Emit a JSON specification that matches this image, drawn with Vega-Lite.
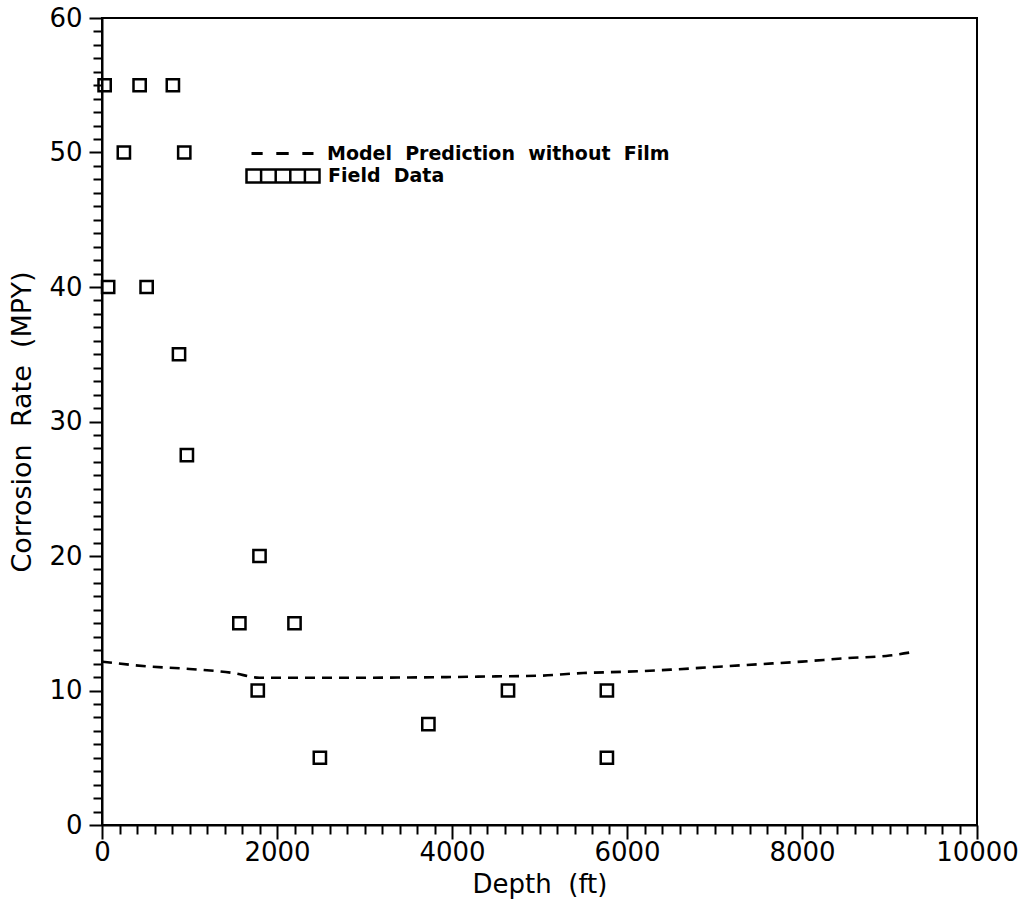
{
  "$schema": "https://vega.github.io/schema/vega-lite/v6.json",
  "width": 875,
  "height": 807,
  "autosize": {"type": "none"},
  "padding": {"left": 102, "top": 18, "right": 50, "bottom": 81},
  "background": "white",
  "config": {
    "view": {"stroke": "black", "strokeWidth": 2},
    "font": "DejaVu Sans",
    "axis": {
      "grid": false,
      "domainColor": "black",
      "domainWidth": 2,
      "tickColor": "black",
      "tickWidth": 2,
      "labelColor": "black",
      "titleColor": "black",
      "labelFont": "DejaVu Sans",
      "titleFont": "DejaVu Sans",
      "labelFontSize": 26,
      "titleFontSize": 26,
      "titleFontWeight": "normal"
    },
    "legend": {
      "labelFont": "DejaVu Sans",
      "labelFontSize": 19,
      "labelFontWeight": "bold",
      "labelColor": "black",
      "labelLimit": 0,
      "padding": 0,
      "offset": 0
    }
  },
  "datasets": {
    "field": [
      {"depth": 30, "rate": 55, "obs": "Field\u00a0 Data"},
      {"depth": 430, "rate": 55, "obs": "Field\u00a0 Data"},
      {"depth": 810, "rate": 55, "obs": "Field\u00a0 Data"},
      {"depth": 250, "rate": 50, "obs": "Field\u00a0 Data"},
      {"depth": 940, "rate": 50, "obs": "Field\u00a0 Data"},
      {"depth": 70, "rate": 40, "obs": "Field\u00a0 Data"},
      {"depth": 510, "rate": 40, "obs": "Field\u00a0 Data"},
      {"depth": 880, "rate": 35, "obs": "Field\u00a0 Data"},
      {"depth": 970, "rate": 27.5, "obs": "Field\u00a0 Data"},
      {"depth": 1800, "rate": 20, "obs": "Field\u00a0 Data"},
      {"depth": 1570, "rate": 15, "obs": "Field\u00a0 Data"},
      {"depth": 2200, "rate": 15, "obs": "Field\u00a0 Data"},
      {"depth": 1780, "rate": 10, "obs": "Field\u00a0 Data"},
      {"depth": 2490, "rate": 5, "obs": "Field\u00a0 Data"},
      {"depth": 3730, "rate": 7.5, "obs": "Field\u00a0 Data"},
      {"depth": 4640, "rate": 10, "obs": "Field\u00a0 Data"},
      {"depth": 5770, "rate": 10, "obs": "Field\u00a0 Data"},
      {"depth": 5770, "rate": 5, "obs": "Field\u00a0 Data"}
    ],
    "model": [
      {"depth": 0, "rate": 12.15, "model": "Model\u00a0 Prediction\u00a0 without\u00a0 Film"},
      {"depth": 500, "rate": 11.8, "model": "Model\u00a0 Prediction\u00a0 without\u00a0 Film"},
      {"depth": 1000, "rate": 11.6, "model": "Model\u00a0 Prediction\u00a0 without\u00a0 Film"},
      {"depth": 1500, "rate": 11.3, "model": "Model\u00a0 Prediction\u00a0 without\u00a0 Film"},
      {"depth": 1800, "rate": 10.95, "model": "Model\u00a0 Prediction\u00a0 without\u00a0 Film"},
      {"depth": 2000, "rate": 10.95, "model": "Model\u00a0 Prediction\u00a0 without\u00a0 Film"},
      {"depth": 2500, "rate": 10.95, "model": "Model\u00a0 Prediction\u00a0 without\u00a0 Film"},
      {"depth": 3000, "rate": 10.95, "model": "Model\u00a0 Prediction\u00a0 without\u00a0 Film"},
      {"depth": 3500, "rate": 10.97, "model": "Model\u00a0 Prediction\u00a0 without\u00a0 Film"},
      {"depth": 4000, "rate": 11.0, "model": "Model\u00a0 Prediction\u00a0 without\u00a0 Film"},
      {"depth": 4500, "rate": 11.05, "model": "Model\u00a0 Prediction\u00a0 without\u00a0 Film"},
      {"depth": 5000, "rate": 11.1, "model": "Model\u00a0 Prediction\u00a0 without\u00a0 Film"},
      {"depth": 5500, "rate": 11.3, "model": "Model\u00a0 Prediction\u00a0 without\u00a0 Film"},
      {"depth": 6000, "rate": 11.4, "model": "Model\u00a0 Prediction\u00a0 without\u00a0 Film"},
      {"depth": 6500, "rate": 11.55, "model": "Model\u00a0 Prediction\u00a0 without\u00a0 Film"},
      {"depth": 7000, "rate": 11.75, "model": "Model\u00a0 Prediction\u00a0 without\u00a0 Film"},
      {"depth": 7500, "rate": 11.95, "model": "Model\u00a0 Prediction\u00a0 without\u00a0 Film"},
      {"depth": 8000, "rate": 12.15, "model": "Model\u00a0 Prediction\u00a0 without\u00a0 Film"},
      {"depth": 8500, "rate": 12.4, "model": "Model\u00a0 Prediction\u00a0 without\u00a0 Film"},
      {"depth": 9000, "rate": 12.6, "model": "Model\u00a0 Prediction\u00a0 without\u00a0 Film"},
      {"depth": 9300, "rate": 12.9, "model": "Model\u00a0 Prediction\u00a0 without\u00a0 Film"}
    ]
  },
  "encoding": {
    "x": {
      "field": "depth",
      "type": "quantitative",
      "scale": {"domain": [0, 10000], "nice": false, "zero": false},
      "axis": {
        "title": "Depth\u00a0 (ft)",
        "titlePadding": 6,
        "values": [0,200,400,600,800,1000,1200,1400,1600,1800,2000,2200,2400,2600,2800,3000,3200,3400,3600,3800,4000,4200,4400,4600,4800,5000,5200,5400,5600,5800,6000,6200,6400,6600,6800,7000,7200,7400,7600,7800,8000,8200,8400,8600,8800,9000,9200,9400,9600,9800,10000],
        "labelExpr": "datum.value % 2000 === 0 ? datum.value : ''",
        "format": "d",
        "tickSize": {"condition": {"test": "datum.value % 2000 === 0", "value": 14}, "value": 9},
        "labelPadding": 0,
        "labelFlush": false,
        "labelOverlap": false
      }
    },
    "y": {
      "field": "rate",
      "type": "quantitative",
      "scale": {"domain": [0, 60], "nice": false, "zero": false},
      "axis": {
        "title": "Corrosion\u00a0 Rate\u00a0 (MPY)",
        "titleFontSize": 27,
        "titlePadding": 12,
        "values": [0,1,2,3,4,5,6,7,8,9,10,11,12,13,14,15,16,17,18,19,20,21,22,23,24,25,26,27,28,29,30,31,32,33,34,35,36,37,38,39,40,41,42,43,44,45,46,47,48,49,50,51,52,53,54,55,56,57,58,59,60],
        "labelExpr": "datum.value % 10 === 0 ? datum.value : ''",
        "tickSize": {"condition": {"test": "datum.value % 10 === 0", "value": 13}, "value": 9},
        "labelPadding": 7,
        "labelFlush": false,
        "labelOverlap": false
      }
    }
  },
  "layer": [
    {
      "data": {"name": "model"},
      "mark": {"type": "line", "strokeDash": [10, 7], "strokeWidth": 2.6, "interpolate": "monotone"},
      "encoding": {
        "color": {
          "field": "model",
          "type": "nominal",
          "scale": {"range": ["black"]},
          "legend": {
            "title": null,
            "orient": "none",
            "legendX": 148,
            "legendY": 103,
            "symbolType": "M-1,0H-0.64M-0.2,0H0.2M0.64,0H1",
            "symbolSize": 3844,
            "symbolStrokeWidth": 2.8,
            "labelOffset": 12
          }
        }
      }
    },
    {
      "data": {"name": "field"},
      "mark": {"type": "point", "shape": "square", "filled": false, "size": 150, "strokeWidth": 2.5, "opacity": 1},
      "encoding": {
        "color": {
          "field": "obs",
          "type": "nominal",
          "scale": {"range": ["black"]},
          "legend": {
            "title": null,
            "orient": "none",
            "legendX": 143,
            "legendY": 120,
            "symbolType": "M-1,-0.18H1V0.18H-1Z M-0.6,-0.18V0.18 M-0.2,-0.18V0.18 M0.2,-0.18V0.18 M0.6,-0.18V0.18",
            "symbolSize": 5329,
            "symbolStrokeWidth": 2.5,
            "symbolOpacity": 1,
            "labelOffset": 7
          }
        }
      }
    }
  ],
  "resolve": {"scale": {"color": "independent"}, "legend": {"color": "independent"}}
}
